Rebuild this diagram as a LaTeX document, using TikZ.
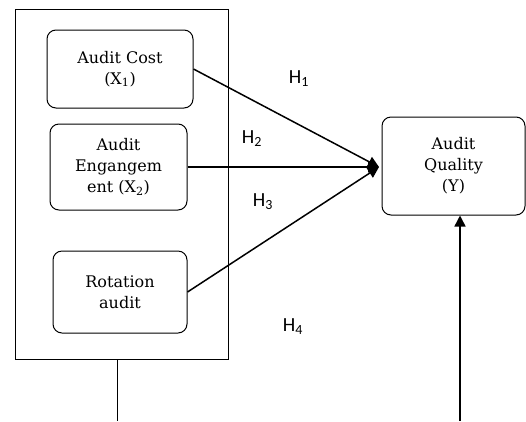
\documentclass[tikz,border=0pt]{standalone}
\usepackage{fontspec}
\setmainfont{DejaVu Serif}
\newfontfamily\hypfont{Carlito}
\usetikzlibrary{arrows.meta}

\begin{document}
\begin{tikzpicture}[x=1pt, y=-1pt, line width=1pt,
			var/.style={draw, rounded corners=9pt, align=center, inner sep=0pt, font=\fontsize{16}{21}\selectfont},
			hyp/.style={font=\hypfont\fontsize{20}{24}\selectfont},
			link/.style={-{Triangle[length=11pt,width=11pt]}, line width=1.5pt}]
			\useasboundingbox (0,0) rectangle (526,421);
			\node[draw, inner sep=0pt, minimum width=213pt, minimum height=350pt] (frame) at (121.5,184) {};
			\node[var, minimum width=146pt, minimum height=78pt] (cost) at (120,69) {Audit Cost\\(X\textsubscript{1})};
			\node[var, minimum width=137pt, minimum height=86pt] (engage) at (118.5,167) {Audit\\Engangem\\ent (X\textsubscript{2})};
			\node[var, minimum width=134pt, minimum height=82pt] (rotation) at (120,292) {Rotation\\audit};
			\node[var, minimum width=143pt, minimum height=98pt] (quality) at (453.5,166) {Audit\\Quality\\(Y)};
			\node[hyp] (h1) at (299,79) {H\textsubscript{1}};
			\node[hyp] (h2) at (252,139) {H\textsubscript{2}};
			\node[hyp] (h3) at (263,202) {H\textsubscript{3}};
			\node[hyp] (h4) at (293,327) {H\textsubscript{4}};
			\coordinate (hub) at (379,167);
			\coordinate (low) at (117,421);
			\coordinate (base) at (460,421);
			\draw[link] (cost.east) -- (hub);
			\draw[link] (engage.east) -- (hub);
			\draw[link] (rotation.east) -- (hub);
			\draw (frame.south -| low) -- (low);
			\draw[link] (base) -- (base |- quality.south);
			\end{tikzpicture}
\end{document}
